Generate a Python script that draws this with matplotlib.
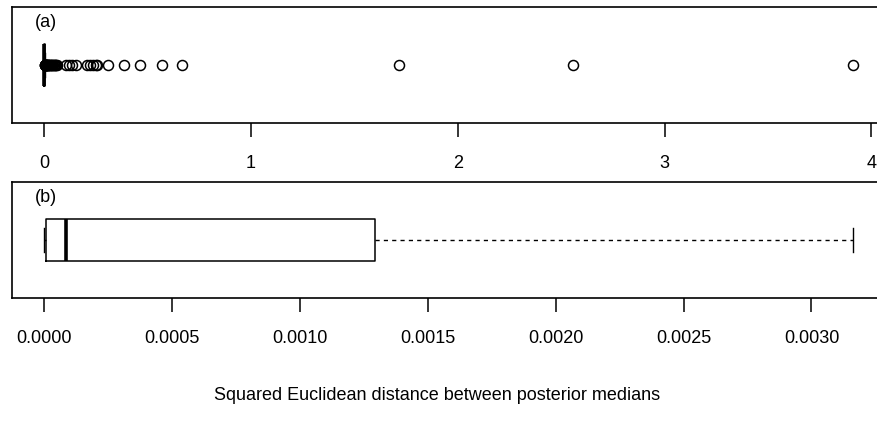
import numpy as np
import matplotlib.pyplot as plt

# five-number summary of the squared distances
whisker_low = 0.000001
quartile_1 = 0.0000065
median = 0.000085
quartile_3 = 0.001295
whisker_high = 0.003161

# points beyond the upper whisker (panel a only)
outliers = [0.0035, 0.004, 0.0045, 0.005, 0.006, 0.007, 0.008, 0.009, 0.010,
            0.012, 0.014, 0.016, 0.018, 0.020, 0.023, 0.026, 0.029, 0.032,
            0.035, 0.038, 0.042, 0.046, 0.050, 0.054, 0.058, 0.062, 0.106,
            0.121, 0.135, 0.155, 0.208, 0.223, 0.237, 0.252, 0.256, 0.310,
            0.387, 0.464, 0.571, 0.668, 1.717, 2.555, 3.909]

ticks_a = [0, 1, 2, 3, 4]
ticks_b = [0.0000, 0.0005, 0.0010, 0.0015, 0.0020, 0.0025, 0.0030]
tick_labels_b = ['0.0000', '0.0005', '0.0010', '0.0015', '0.0020', '0.0025', '0.0030']

plt.rcParams['font.family'] = ['Liberation Sans', 'DejaVu Sans']
plt.rcParams['font.size'] = 13

W, H = 878, 433
fig = plt.figure(figsize=(W / 100, H / 100), dpi=100)

def px_axes(top, bottom, left=12, right=885):
    return fig.add_axes([left / W, 1 - bottom / H, (right - left) / W, (bottom - top) / H])

ax_a = px_axes(7, 123)
ax_b = px_axes(182, 298)

def draw(ax, fliers, ticks, labels, tag):
    stats = [dict(whislo=whisker_low, q1=quartile_1, med=median,
                  q3=quartile_3, whishi=whisker_high, fliers=fliers)]
    ax.bxp(stats, positions=[0.5], widths=0.37, capwidths=0.2,
           orientation='horizontal',
           boxprops=dict(color='black', lw=1.1),
           medianprops=dict(color='black', lw=2.6),
           whiskerprops=dict(color='black', lw=1.0, linestyle=(0, (3, 3))),
           capprops=dict(color='black', lw=1.0),
           flierprops=dict(marker='o', mfc='none', mec='black', ms=7.2, mew=1.1))
    # R style range: data extent plus 4% on each side
    lo = min([whisker_low] + list(fliers))
    hi = max([whisker_high] + list(fliers))
    pad = 0.04 * (hi - lo)
    ax.set_xlim(lo - pad, hi + pad)
    ax.set_ylim(0, 1)
    ax.set_yticks([])
    ax.set_xticks(ticks)
    ax.set_xticklabels(labels)
    ax.tick_params(axis='x', length=10, width=1.1, pad=13)
    for s in ax.spines.values():
        s.set_linewidth(1.2)
    ax.text(0.026, 0.87, tag, transform=ax.transAxes, ha='left', va='center')

draw(ax_a, outliers, ticks_a, [str(t) for t in ticks_a], '(a)')
draw(ax_b, [], ticks_b, tick_labels_b, '(b)')

fig.text(437 / W, 1 - 395 / H, 'Squared Euclidean distance between posterior medians',
         ha='center', va='center')

fig.savefig('out.png', dpi=100)
